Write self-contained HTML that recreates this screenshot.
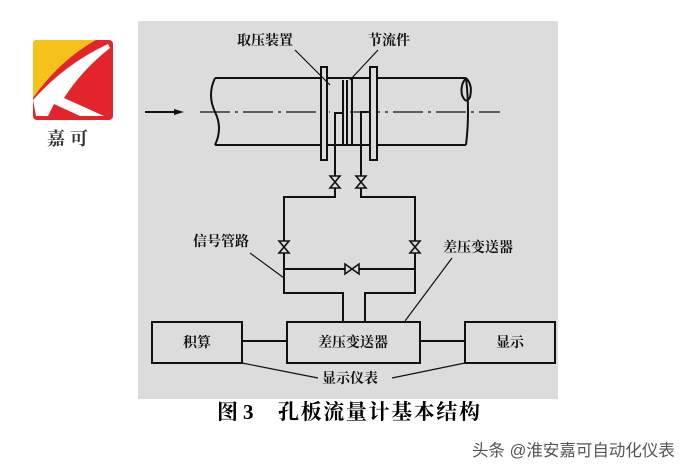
<!DOCTYPE html>
<html><head><meta charset="utf-8"><style>
html,body{margin:0;padding:0;background:#fff;width:700px;height:472px;overflow:hidden}
svg{position:absolute;left:0;top:0}
</style></head><body>
<svg width="700" height="472" viewBox="0 0 700 472" xmlns="http://www.w3.org/2000/svg">
<rect x="138" y="21" width="420" height="378" fill="#dcdcdc"/>
<!-- logo -->
<rect x="33" y="40" width="80" height="80" rx="4" fill="#e3242b"/>
<path d="M37 40 H96 Q60 60 33 98 V44 Q33 40 37 40Z" fill="#f5c21b"/>
<path d="M33 100 Q65 64 108 44 L110 48 Q82 70 64 98 L104 116 H80 L54 104 L48 116 H36Z" fill="#fff"/>
<text x="70" y="145" font-family="Liberation Serif,'Noto Serif CJK SC',serif" font-weight="bold" font-size="18" fill="#333" text-anchor="middle" letter-spacing="5">嘉可</text>
<g stroke="#111" stroke-width="2" fill="none">
<line x1="215" y1="78" x2="466" y2="78"/>
<line x1="215" y1="145" x2="466" y2="145"/>
<path d="M215 78 Q207 95 215 112 Q223 128 215 145"/>
<path d="M466 78 Q460 85 462 95 Q466 105 470 97 Q473 85 466 78"/>
<path d="M466 78 Q470 112 466 145"/>
<line x1="350" y1="112" x2="500" y2="112" stroke-width="1.3" stroke-dasharray="30 5 3 5"/>
<line x1="200" y1="112" x2="330" y2="112" stroke-width="1.3" stroke-dasharray="30 5 3 5"/>
<line x1="145" y1="112" x2="176" y2="112"/>
<rect x="321" y="67" width="6" height="93" fill="#dcdcdc"/>
<rect x="370" y="67" width="7" height="93" fill="#dcdcdc"/>
<line x1="343" y1="80" x2="343" y2="145"/>
<line x1="347" y1="80" x2="347" y2="145"/>
<line x1="352" y1="78" x2="352" y2="145"/>
<polyline points="343,113 335,113 335,197 284,197 284,293 343,293 343,322"/>
<polyline points="369,112 361,112 361,197 415,197 415,293 365,293 365,322"/>
<line x1="284" y1="269" x2="415" y2="269"/>
<rect x="287" y="322" width="133" height="41"/>
<rect x="152" y="322" width="90" height="41"/>
<rect x="465" y="322" width="90" height="41"/>
<line x1="242" y1="341" x2="287" y2="341"/>
<line x1="420" y1="341" x2="465" y2="341"/>
</g>
<path d="M174 109 L184 112 L174 115Z" fill="#111"/>
<g stroke="#111" stroke-width="1.6" fill="#dcdcdc">
<path d="M330 176 L340 176 L330 188 L340 188Z"/>
<path d="M356 176 L366 176 L356 188 L366 188Z"/>
<path d="M279 241 L289 241 L279 253 L289 253Z"/>
<path d="M410 241 L420 241 L410 253 L420 253Z"/>
<path d="M345 264 L345 274 L359 264 L359 274Z"/>
</g>
<g stroke="#111" stroke-width="1.2" fill="none">
<line x1="295" y1="50" x2="330" y2="85"/>
<line x1="378" y1="50" x2="350" y2="80"/>
<line x1="250" y1="253" x2="284" y2="278"/>
<line x1="452" y1="258" x2="405" y2="321"/>
<line x1="242" y1="363" x2="318" y2="378"/>
<line x1="465" y1="363" x2="392" y2="378"/>
</g>
<g font-family="Liberation Serif,'Noto Serif CJK SC',serif" font-weight="bold" fill="#111" font-size="14">
<text x="237" y="45">取压装置</text>
<text x="368" y="45">节流件</text>
<text x="193" y="246">信号管路</text>
<text x="443" y="252">差压变送器</text>
<text x="353" y="347" text-anchor="middle">差压变送器</text>
<text x="197" y="347" text-anchor="middle">积算</text>
<text x="510" y="347" text-anchor="middle">显示</text>
<text x="350" y="383" text-anchor="middle">显示仪表</text>
</g>
<g font-family="Liberation Serif,'Noto Serif CJK SC',serif" font-weight="bold" font-size="21" fill="#000">
<text x="217" y="419">图</text>
<text x="243" y="419">3</text>
<text x="278" y="419" textLength="202" lengthAdjust="spacing">孔板流量计基本结构</text>
</g>
<text x="472" y="456" font-family="Liberation Sans,'Noto Sans CJK SC',sans-serif" font-size="16.5" fill="#555">头条 @淮安嘉可自动化仪表</text>
</svg>
</body></html>
